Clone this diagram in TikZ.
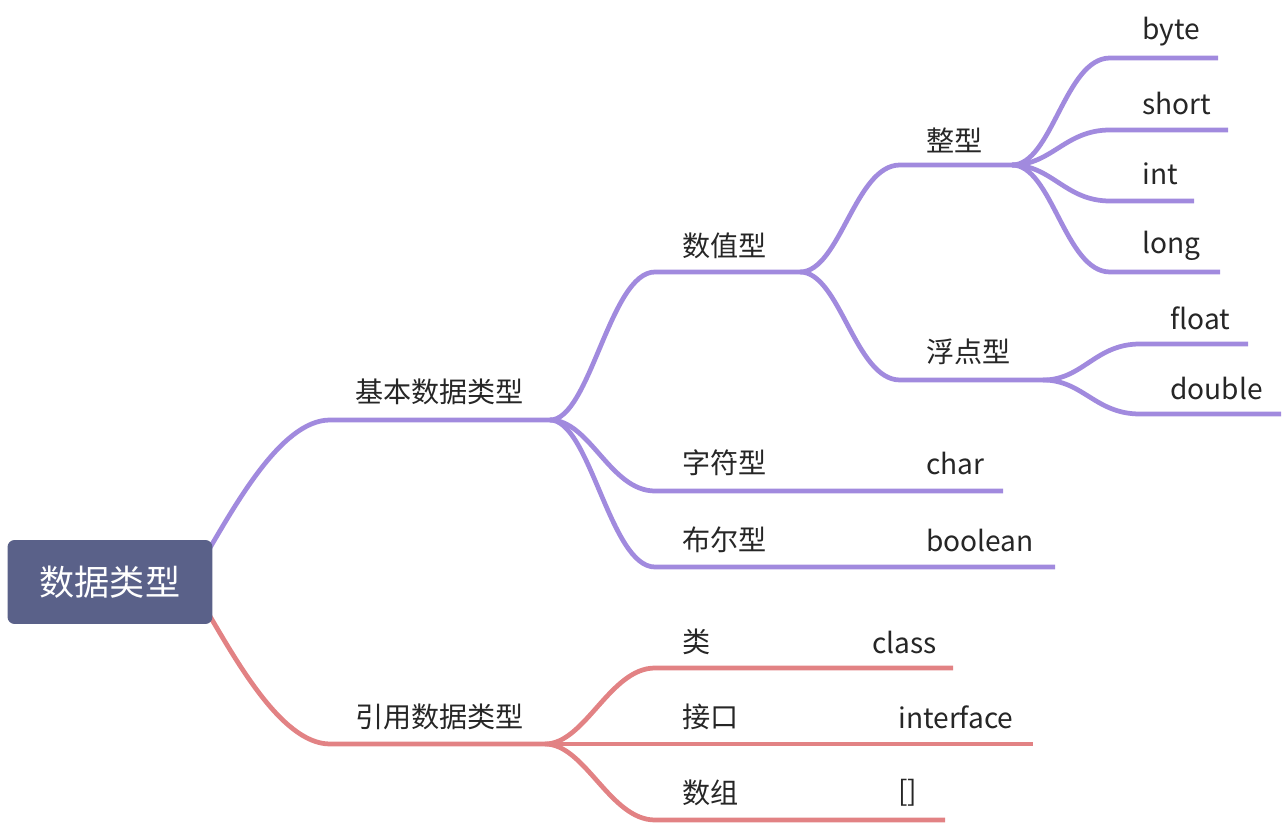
\documentclass[tikz,border=0pt]{standalone}
\usepackage{fontspec}
\setmainfont{Noto Sans CJK SC}
\usetikzlibrary{positioning,backgrounds}
\definecolor{rootfill}{RGB}{90,97,137}
\definecolor{basicpurple}{RGB}{161,138,222}
\definecolor{refrose}{RGB}{226,130,132}

\begin{document}
\begin{tikzpicture}[x=0.02cm,y=-0.02cm,line cap=round,
  rootbox/.style={fill=rootfill,rounded corners=4pt,text=white,
    minimum width=4.1cm,minimum height=1.68cm,inner sep=0pt,
    font=\fontsize{20pt}{24pt}\selectfont},
  topic/.style={anchor=west,inner sep=0pt,text=black!85,
    font=\fontsize{16pt}{19pt}\selectfont},
  basicln/.style={draw=basicpurple,line width=2.7pt},
  refln/.style={draw=refrose,line width=2.7pt},
  mmbend/.style={to path={.. controls +(40,0) and +(-45,0) .. (\tikztotarget)}}]
  \useasboundingbox (0,0) rectangle (1286,824);
  \node[rootbox] (root) at (110,582) {数据类型};

  % junctions and line ends
  \coordinate (basicL) at (330,420);   \coordinate (jBasic) at (550,420);
  \coordinate (refL) at (330,744);     \coordinate (jRef) at (545,744);
  \coordinate (numL) at (655,272);     \coordinate (jNum) at (800,272);
  \coordinate (intL) at (900,165);     \coordinate (jInt) at (1012,165);
  \coordinate (fltL) at (900,380);     \coordinate (jFlt) at (1043,380);

  \begin{scope}[on background layer]
    % basic types
    \draw[basicln] ([xshift=-6,yshift=-12]root.north east)
      .. controls +(30,-50) and +(-50,0) .. (basicL) -- (jBasic);
    \draw[basicln] (jBasic) to[mmbend] (numL) -- (jNum);
    \draw[basicln] (jBasic) to[mmbend] (655,491) coordinate (chrL) -- (1003,491) coordinate (chrR);
    \draw[basicln] (jBasic) to[mmbend] (655,567) coordinate (boolL) -- (1055,567) coordinate (boolR);
    \draw[basicln] (jNum) to[mmbend] (intL) -- (jInt);
    \draw[basicln] (jNum) to[mmbend] (fltL) -- (jFlt);
    \foreach \nm/\yy/\xe in {byte/58/1218,short/130/1228,int/201/1194,long/272/1220}
      \draw[basicln] (jInt) to[mmbend] (1110,\yy) coordinate (\nm L) -- (\xe,\yy);
    \foreach \nm/\yy/\xe in {float/344/1248,double/414/1281}
      \draw[basicln] (jFlt) to[mmbend] (1140,\yy) coordinate (\nm L) -- (\xe,\yy);
    % reference types
    \draw[refln] ([xshift=-6,yshift=12]root.south east)
      .. controls +(30,50) and +(-50,0) .. (refL) -- (jRef);
    \draw[refln] (jRef) to[mmbend] (655,668) coordinate (clsL) -- (953,668);
    \draw[refln] (jRef) -- (1033,744) coordinate (ifaceR);
    \draw[refln] (jRef) to[mmbend] (655,820) coordinate (arrL) -- (945,820);
  \end{scope}

  % labels
  \node[topic] (basic) at (355,392) {基本数据类型};
  \node[topic] (num) at (682,246) {数值型};
  \node[topic] (chr) at (682,463) {字符型};
  \node[topic] (chrv) at (926,463) {char};
  \node[topic] (bool) at (682,540) {布尔型};
  \node[topic] (boolv) at (926,540) {boolean};
  \node[topic] (integ) at (926,140) {整型};
  \node[topic] (flt) at (926,352) {浮点型};
  \foreach \nm/\yy in {byte/32,short/103,int/174,long/246}
    \node[topic] (\nm) at (1142,\yy) {\nm};
  \foreach \nm/\yy in {float/318,double/388}
    \node[topic] (\nm) at (1170,\yy) {\nm};
  \node[topic] (ref) at (355,717) {引用数据类型};
  \node[topic] (cls) at (682,642) {类};
  \node[topic] (clsv) at (872,642) {class};
  \node[topic] (iface) at (682,717) {接口};
  \node[topic] (ifacev) at (898,717) {interface};
  \node[topic] (arr) at (682,793) {数组};
  \node[topic] (arrv) at (898,793) {[]};
\end{tikzpicture}
\end{document}
